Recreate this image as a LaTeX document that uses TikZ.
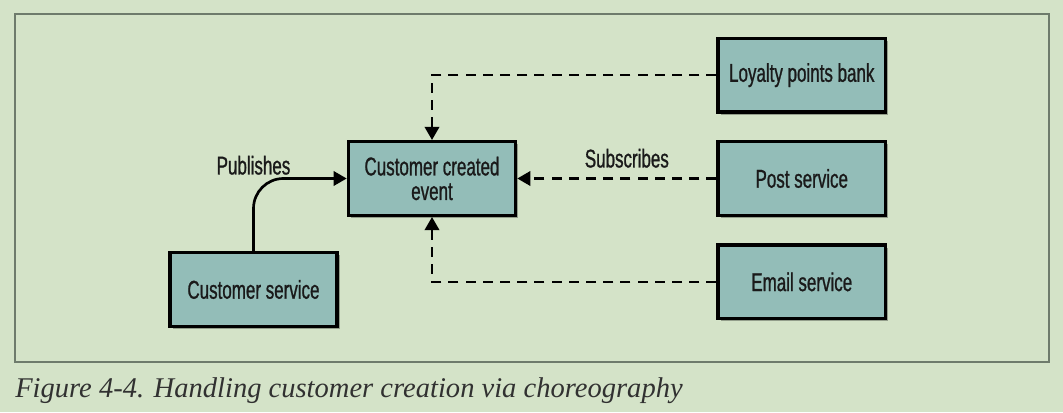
\documentclass[tikz,border=0pt]{standalone}
\usepackage{fontspec}
\setmainfont{Liberation Serif}
\newfontfamily\boxfont[FakeStretch=0.66,FakeBold=0.9]{Liberation Sans}
\usetikzlibrary{arrows.meta,positioning,shadows}
\definecolor{Paper}{HTML}{D4E3C8}
\definecolor{Frame}{HTML}{6E7B6C}
\definecolor{BoxFill}{HTML}{93BDB8}
\definecolor{Ink}{HTML}{1A1A1A}
\tikzset{
 svc/.style={draw=black, line width=2.4pt, fill=BoxFill, minimum width=4.18cm, minimum height=1.84cm, align=center, inner sep=2pt, text=Ink, font=\boxfont\fontsize{18.3}{17.5}\selectfont, drop shadow={shadow xshift=0.07cm, shadow yshift=-0.07cm, opacity=0.3, fill=black}},
 lbl/.style={font=\boxfont\fontsize{18.3}{17.5}\selectfont, text=Ink, inner sep=0pt, anchor=base},
 pubarrow/.style={-{Triangle[length=0.33cm,width=0.36cm]}, line width=1.9pt, rounded corners=0.75cm},
 subarrow/.style={-{Triangle[length=0.33cm,width=0.36cm]}, line width=1.9pt, dash pattern=on 0.25cm off 0.18cm}
}
\begin{document}
\begin{tikzpicture}
\fill[Paper] (0,0) rectangle (26.575,10.3);
\useasboundingbox (0,0) rectangle (26.575,10.3);
\draw[Frame, line width=0.8pt] (0.375,1.25) rectangle (26.225,9.95);
% the event and its subscribers
\node[svc] (ev) at (10.8,5.8375) {Customer created\\event};
\node[svc, right=4.98cm of ev] (ps) {Post service};
\node[svc, above=0.66cm of ps] (lp) {Loyalty points bank};
\node[svc, below=0.66cm of ps] (es) {Email service};
\node[svc] (cs) at (6.3375,3.0625) {Customer service};
% connectors
\draw[pubarrow] (cs.north) |- node[lbl, yshift=0.1cm] {Publishes} (ev.west);
\draw[subarrow] (lp.west) -| (ev.north);
\draw[subarrow] (ps.west) -- node[lbl, pos=0.45, yshift=0.275cm] {Subscribes} (ev.east);
\draw[subarrow] (es.west) -| (ev.south);
\node[anchor=base west, inner sep=0pt, text=Ink!90, font=\itshape\fontsize{20.3}{21}\selectfont] (cap) at (0.375,0.35) {Figure 4-4. Handling customer creation via choreography};
\end{tikzpicture}
\end{document}
